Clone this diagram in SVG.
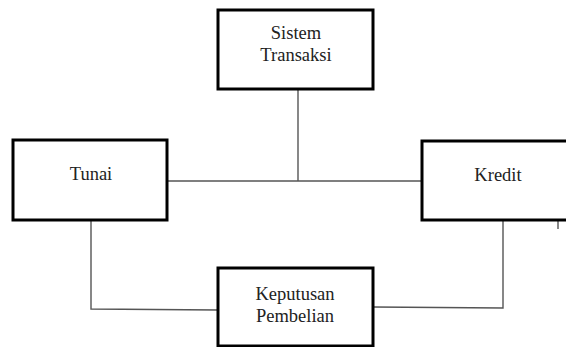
<svg xmlns="http://www.w3.org/2000/svg" width="566" height="347" viewBox="0 0 566 347">
<style>
.box{fill:#fff;stroke:#000;stroke-width:3}
.lbl{font-family:'Liberation Serif','Times New Roman',serif;font-size:18.5px;fill:#222;text-anchor:middle}
.con{fill:none;stroke:#555;stroke-width:1.4}
</style>
<rect width="566" height="347" fill="#fff"/>
<g id="connectors">
<line class="con" x1="298" y1="89" x2="298" y2="181"/>
<line class="con" x1="167" y1="181" x2="422" y2="181"/>
<polyline class="con" points="91,220 91,309 218,310"/>
<polyline class="con" points="373,307 503,308 503,220"/>
<line class="con" x1="558" y1="221" x2="558" y2="229"/>
</g>
<g id="sistem-transaksi">
<rect class="box" x="218" y="10" width="155" height="79"/>
<text class="lbl" x="296" y="39">Sistem</text>
<text class="lbl" x="296" y="61">Transaksi</text>
</g>
<g id="tunai">
<rect class="box" x="13" y="140" width="154" height="80"/>
<text class="lbl" x="91" y="180">Tunai</text>
</g>
<g id="kredit">
<rect class="box" x="422" y="141" width="160" height="79"/>
<text class="lbl" x="498" y="181">Kredit</text>
</g>
<g id="keputusan-pembelian">
<rect class="box" x="218" y="268" width="155" height="78"/>
<text class="lbl" x="295" y="300">Keputusan</text>
<text class="lbl" x="295" y="322">Pembelian</text>
</g>
</svg>
